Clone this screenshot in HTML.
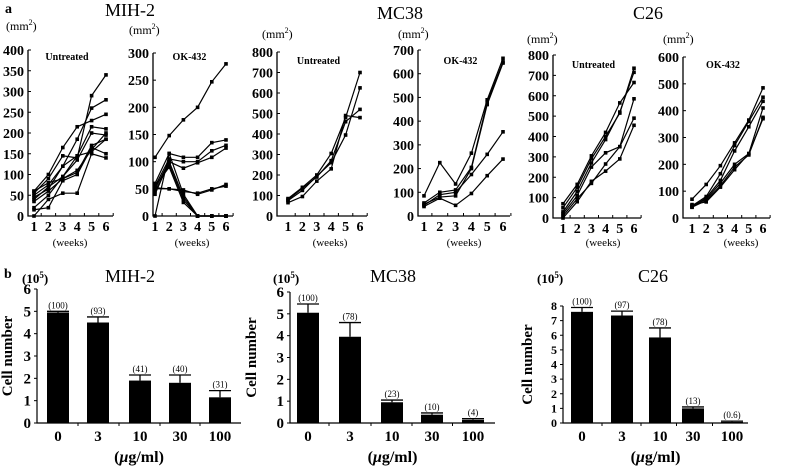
<!DOCTYPE html>
<html><head><meta charset="utf-8"><style>
body{margin:0;background:#fff}
svg{display:block}
text{font-family:"Liberation Serif",serif;fill:#000}
.b{font-weight:bold}
</style></head><body>
<svg id="fig" width="787" height="467" viewBox="0 0 787 467" xmlns="http://www.w3.org/2000/svg"></svg>
<script>
// ---- panel a data (weeks 1..6) ----
const weeks = [1,2,3,4,5,6];
const mihUntreated = [
 [60,100,165,215,230,245],[55,90,145,140,290,340],[50,75,120,185,260,280],
 [40,70,95,145,215,210],[60,80,90,105,170,185],[20,50,95,135,200,195],
 [15,20,85,100,165,150],[0,40,55,55,150,140],[45,65,120,145,155,185],[35,60,90,110,160,200]];
const mihOK = [
 [108,148,177,200,247,280],[60,115,108,108,135,140],[55,105,100,100,120,130],
 [50,100,88,98,108,125],[52,50,45,42,50,55],[50,50,48,40,48,58],
 [45,95,30,0,0,0],[40,100,35,0,0,0],[0,115,40,0,0,0],[55,90,25,0,0,0]];
const mcUntreated = [
 [85,140,200,305,480,700],[75,125,195,260,395,625],[80,135,190,270,460,520],[65,95,170,230,490,480]];
const mcOK = [
 [85,225,135,265,490,665],[55,100,110,205,480,650],[45,90,100,175,260,355],
 [40,75,45,95,170,240],[50,80,85,200,470,645]];
const c26Untreated = [
 [70,165,305,420,565,665],[50,150,290,400,515,735],[30,130,270,385,520,715],
 [20,110,250,320,350,585],[10,95,170,265,350,490],[0,80,180,230,290,455]];
const c26OK = [
 [70,125,195,280,365,485],[45,80,165,270,360,450],[40,75,140,250,340,435],
 [45,70,130,200,240,410],[40,65,120,190,235,375],[50,60,115,180,240,370]];
const mihUntTicks=[0,50,100,150,200,250,300,350,400];
const mihOKTicks=[0,50,100,150,200,250,300];
const mcUntTicks=[0,100,200,300,400,500,600,700,800];
const mcOKTicks=[0,100,200,300,400,500,600,700];
const c26UntTicks=[0,100,200,300,400,500,600,700,800];
const c26OKTicks=[0,100,200,300,400,500,600];
// ---- panel b data ----
const doses = ["0","3","10","30","100"];
const mihCells=[4.95,4.5,1.9,1.8,1.15];
const mihErr=[0.05,0.25,0.25,0.35,0.3];
const mihPct=["(100)","(93)","(41)","(40)","(31)"];
const mcCells=[5.05,3.95,0.95,0.38,0.15];
const mcErr=[0.4,0.65,0.1,0.08,0.05];
const mcPct=["(100)","(78)","(23)","(10)","(4)"];
const c26Cells=[7.6,7.35,5.85,1.0,0.08];
const c26Err=[0.3,0.3,0.65,0.1,0.05];
const c26Pct=["(100)","(97)","(78)","(13)","(0.6)"];
const sixTicks=[0,1,2,3,4,5,6];
const eightTicks=[0,1,2,3,4,5,6,7,8];

const NS="http://www.w3.org/2000/svg";
const svg=document.getElementById('fig');
function el(tag,attrs,parent){const e=document.createElementNS(NS,tag);for(const k in attrs)e.setAttribute(k,attrs[k]);(parent||svg).appendChild(e);return e;}
function txt(s,x,y,size,cls,anchor,parent){const t=el('text',{x:x,y:y,'font-size':size,'text-anchor':anchor||'middle',class:cls||''},parent);t.textContent=s;return t;}

function lineChart(name,ax,x1,xEnd,yTop,y0,ticks,series,label,labY,mmX,mmY,weeksX){
  const g=el('g',{});
  
  
  const max=ticks[ticks.length-1];
  const Y=v=>y0-(v/max)*(y0-yTop);
  const step=(xEnd-x1)/5;
  const X=w=>x1+(w-1)*step;
  const axes=el('path',{d:`M${ax},${yTop} V${y0} H${xEnd+7}`,stroke:'#000','stroke-width':1.3,fill:'none'},g);
  
  
  ticks.forEach(t=>{
    const l=txt(String(t),ax-4,Y(t)+5,14,'b','end',g);
    
    
    el('line',{x1:ax,x2:ax+3,y1:Y(t),y2:Y(t),stroke:'#000','stroke-width':1},g);
  });
  weeks.forEach(w=>{
    const l=txt(String(w),X(w),y0+15,14,'b','middle',g);
    
    
    el('line',{x1:X(w)+step/2,x2:X(w)+step/2,y1:y0,y2:y0-3,stroke:'#000'},g);
  });
  series.forEach((s,i)=>{
    const p=el('polyline',{points:s.map((v,j)=>X(weeks[j])+','+Y(v)).join(' '),fill:'none',stroke:'#000','stroke-width':1.2},g);
    
    
    s.forEach((v,j)=>{
      const m=el('rect',{x:X(weeks[j])-1.8,y:Y(v)-1.8,width:3.6,height:3.6,fill:'#000'},g);
      
      
    });
  });
  const lb=txt(label,(ax+xEnd)/2,labY,10,'b','middle',g);
  
  
  const mm=el('text',{x:mmX,y:mmY,'font-size':12},g);
  mm.innerHTML='(mm<tspan font-size="8" dy="-5">2</tspan><tspan dy="5">)</tspan>';
  
  
  const wk=txt('(weeks)',weeksX,246,11,'','middle',g);
  wk.setAttribute('font-family','Liberation Sans, sans-serif');
  
  
}

function barChart(name,ax,xs,xEnd,yTop,y0,ticks,vals,errs,pcts,title,titleX,unitX,ylabX){
  const g=el('g',{});
  
  
  const max=ticks[ticks.length-1];
  const Y=v=>y0-(v/max)*(y0-yTop);
  const big=ticks.length>7;
  ticks.forEach(t=>{
    const l=txt(String(t),ax-6,Y(t)+(big?4:5),big?12:15,'b','end',g);
    
    
    el('line',{x1:ax-3,x2:ax,y1:Y(t),y2:Y(t),stroke:'#000'},g);
  });
  const axes=el('path',{d:`M${ax},${yTop} V${y0} H${xEnd}`,stroke:'#000','stroke-width':1.2,fill:'none'},g);
  
  
  const bw=22;
  vals.forEach((v,i)=>{
    const cx=xs[i];
    const ey=Y(v+errs[i]);
    el('line',{x1:cx,x2:cx,y1:Y(v),y2:ey,stroke:'#000','stroke-width':1.3},g);
    el('line',{x1:cx-bw/2,x2:cx+bw/2,y1:ey,y2:ey,stroke:'#000','stroke-width':1.3},g);
    const r=el('rect',{x:cx-bw/2,y:Y(v),width:bw,height:y0-Y(v),fill:'#000'},g);
    
    
    const p=txt(pcts[i],cx,ey-3,9,'','middle',g);
    
    
    const xl=txt(doses[i],cx,y0+18,15,'b','middle',g);
    
    
    if(i<vals.length-1){const mx=(xs[i]+xs[i+1])/2;el('line',{x1:mx,x2:mx,y1:y0,y2:y0+3,stroke:'#000'},g);}
  });
  const t=txt(title,titleX,282,18,'','middle',g);
  
  
  const u=el('text',{x:unitX,y:283,'font-size':13,class:'b'},g);
  u.innerHTML='(10<tspan font-size="9" dy="-5">5</tspan><tspan dy="5">)</tspan>';
  
  
  const yl=txt('Cell number',0,0,15,'b','middle',g);
  yl.setAttribute('transform',`translate(${ylabX},${(yTop+y0)/2}) rotate(-90)`);
  
  
  const xt=el('text',{x:(ax+xEnd)/2,y:462,'font-size':16,class:'b','text-anchor':'middle'},g);
  xt.innerHTML='(<tspan font-style="italic">μ</tspan>g/ml)';
  
  
}

// titles
[['a',5,13,14,'start','b'],['MIH-2',130,16,18,'middle',''],['MC38',400,19,18,'middle',''],['C26',648,19,18,'middle',''],['b',4,278,14,'start','b']].forEach(a=>{
  const t=txt(a[0],a[1],a[2],a[3],a[5],a[4]);
  
  
});

lineChart('mih2-untreated-chart',28,34,106,50,216,mihUntTicks,mihUntreated,'Untreated',60,6,30,70);
lineChart('mih2-ok432-chart',153,155,226,53,216,mihOKTicks,mihOK,'OK-432',60,129,34,192);
lineChart('mc38-untreated-chart',277,288,360,52,216,mcUntTicks,mcUntreated,'Untreated',64,262,38,330);
lineChart('mc38-ok432-chart',418,424,503,50,216,mcOKTicks,mcOK,'OK-432',64,398,38,464);
lineChart('c26-untreated-chart',553,563,634,55,218,c26UntTicks,c26Untreated,'Untreated',68,527,43,603);
lineChart('c26-ok432-chart',683,692,763,57,218,c26OKTicks,c26OK,'OK-432',68,663,43,741);

barChart('mih2-cell-chart',37,[58,98,140,180,220],241,289,423,sixTicks,mihCells,mihErr,mihPct,'MIH-2',130,22,12);
barChart('mc38-cell-chart',290,[308,350,392,432,473],495,292,423,sixTicks,mcCells,mcErr,mcPct,'MC38',393,273,256);
barChart('c26-cell-chart',563,[582,622,660,693,732],748,306,423,eightTicks,c26Cells,c26Err,c26Pct,'C26',653,537,532);
</script>
</body></html>
